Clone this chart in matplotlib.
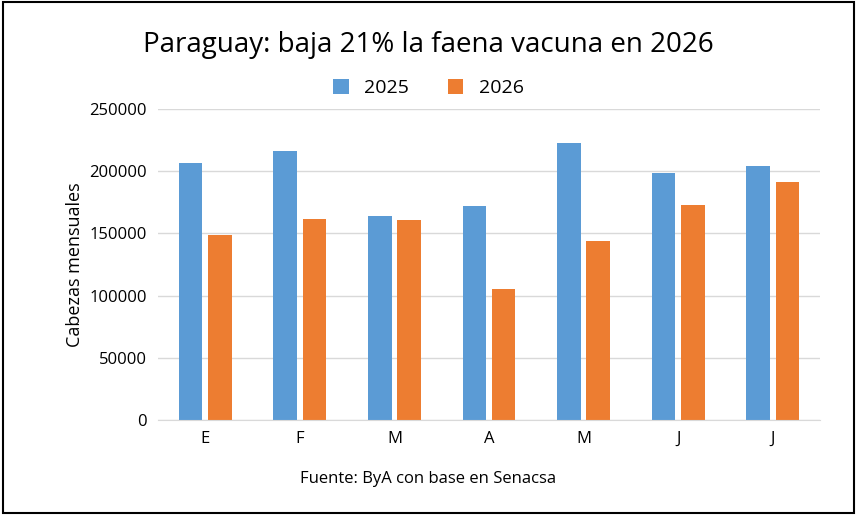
import matplotlib.pyplot as plt
import numpy as np

meses = ['E', 'F', 'M', 'A', 'M', 'J', 'J']
faena_2025 = [206500, 216400, 164200, 172200, 222900, 198700, 204400]
faena_2026 = [148900, 161800, 161000, 105500, 144100, 173000, 191500]

plt.rcParams['font.family'] = ['Open Sans', 'DejaVu Sans']

fig = plt.figure(figsize=(8.57, 5.15), dpi=100)
ax = fig.add_axes([158/857, 1-420/515, 662/857, 311/515])

x = np.arange(len(meses))
w = 0.25
ax.bar(x - 0.155, faena_2025, w, color='#5b9bd5', label='2025')
ax.bar(x + 0.155, faena_2026, w, color='#ed7d31', label='2026')

ax.set_ylim(0, 250000)
ax.set_xlim(-0.5, len(meses) - 0.5)
ax.set_yticks(range(0, 250001, 50000))
ax.set_xticks(x, meses)
ax.grid(axis='y', color='#d9d9d9', linewidth=1)
ax.set_axisbelow(True)
for s in ['top', 'right', 'left']:
    ax.spines[s].set_visible(False)
ax.spines['bottom'].set_color('#d9d9d9')
ax.tick_params(length=0, labelsize=12, pad=8)
ax.set_ylabel('Cabezas mensuales', fontsize=13)

fig.text(0.5, 1-45/515, 'Paraguay: baja 21% la faena vacuna en 2026', ha='center', va='center', fontsize=20)
fig.legend(loc='center', bbox_to_anchor=(0.5, 1-88/515), ncol=2, frameon=False, fontsize=14,
           handlelength=0.8, handleheight=0.8, columnspacing=2)
fig.text(0.5, 1-479/515, 'Fuente: ByA con base en Senacsa', ha='center', va='center', fontsize=12)

fig.add_artist(plt.Rectangle((0.004, 0.004), 0.992, 0.992, transform=fig.transFigure,
                             fill=False, edgecolor='black', linewidth=1.5))

fig.savefig('out.png', dpi=100)
